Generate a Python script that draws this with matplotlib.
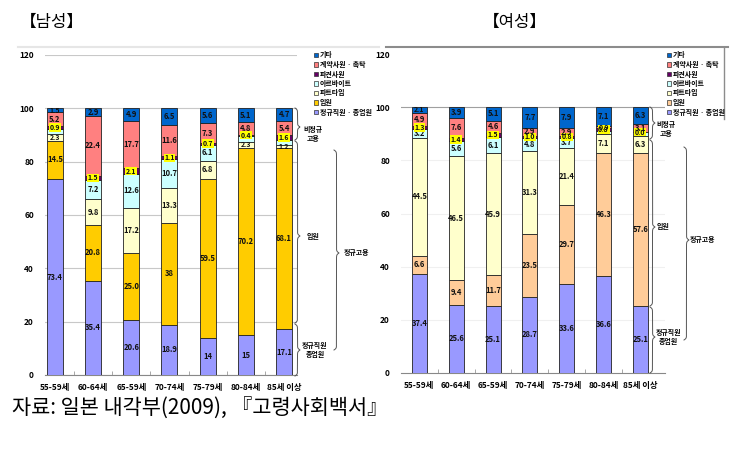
import numpy as np
import matplotlib
matplotlib.use('Agg')
import matplotlib.pyplot as plt
from matplotlib.lines import Line2D
from matplotlib.patches import Rectangle

plt.rcParams['font.family'] = ['Noto Sans CJK KR', 'DejaVu Sans']

# ---------------------------------------------------------------- data
ages_m = ['55-59세', '60-64세', '65-59세', '70-74세', '75-79세', '80-84세', '85세 이상']
ages_f = ['55-59세', '60-64세', '65-59세', '70-74세', '75-79세', '80-84세', '85세 이상']
series = ['정규직원 · 종업원', '임원', '파트타임', '아르바이트', '파견사원', '계약사원 · 촉탁', '기타']

# 남성 (bottom -> top)
m_regular  = [73.4, 35.4, 20.6, 18.9, 14.0, 15.0, 17.1]
m_officer  = [14.5, 20.8, 25.0, 38.0, 59.5, 70.2, 68.1]
m_part     = [2.3, 9.8, 17.2, 13.3, 6.8, 2.3, 1.2]
m_arbeit   = [2.2, 7.2, 12.6, 10.7, 6.1, 2.2, 1.9]
m_dispatch = [0.9, 1.5, 2.1, 1.1, 0.7, 0.4, 1.6]
m_contract = [5.2, 22.4, 17.7, 11.6, 7.3, 4.8, 5.4]
m_other    = [1.5, 2.9, 4.9, 6.5, 5.6, 5.1, 4.7]

# 여성 (bottom -> top)
f_regular  = [37.4, 25.6, 25.1, 28.7, 33.6, 36.6, 25.1]
f_officer  = [6.6, 9.4, 11.7, 23.5, 29.7, 46.3, 57.6]
f_part     = [44.5, 46.5, 45.9, 31.3, 21.4, 7.1, 6.3]
f_arbeit   = [3.2, 5.6, 6.1, 4.8, 3.7, 1.2, 1.6]
f_dispatch = [1.3, 1.4, 1.5, 1.0, 0.8, 0.8, 0.0]
f_contract = [4.9, 7.6, 4.6, 2.9, 2.9, 0.9, 3.1]
f_other    = [2.1, 3.9, 5.1, 7.7, 7.9, 7.1, 6.3]

# segments printed without a label, and labels printed differently
m_hidden = {(3, 0), (3, 5), (3, 6)}
f_hidden = {(3, 5), (3, 6)}
m_text = {(0, 4): '14', (0, 5): '15', (1, 3): '38', (1, 2): '25.0'}
f_text = {(4, 6): '0.0'}

# ---------------------------------------------------------------- style
colors_m = ['#9999FF', '#FFCC00', '#FFFFCC', '#CCFFFF', '#660066', '#FF8080', '#0066CC']
colors_f = ['#9999FF', '#FFCC99', '#FFFFCC', '#CCFFFF', '#660066', '#FF8080', '#0066CC']

W, H = 753, 451
fig = plt.figure(figsize=(W / 100, H / 100), dpi=100)


def fx(px):
    return px / W


def fy(py):
    return 1 - py / H


def brace(x, y1, y2, w, tip=None):
    # curly brace pointing right, pixel coords (y from top)
    if tip is None:
        tip = (y1 + y2) / 2
    beta = 1.2
    out_x, out_y = [], []
    for a, b in [(y1, tip), (y2, tip)]:
        seg = np.linspace(0, abs(b - a), 120)
        v = 1 / (1 + np.exp(-beta * (seg - seg[0]))) + 1 / (1 + np.exp(-beta * (seg - seg[-1])))
        xs = x + (v - 0.5) * w
        ys = a + np.sign(b - a) * seg
        if a == y2:
            xs, ys = xs[::-1], ys[::-1]
        out_x.append(xs)
        out_y.append(ys)
    xs = np.concatenate([out_x[0], out_x[1]])
    ys = np.concatenate([out_y[0], out_y[1]])
    fig.add_artist(Line2D(fx(xs), fy(ys), transform=fig.transFigure, color='#555555', lw=0.7))


def draw_panel(rect, xlim, width, data, colors, hidden, text_over, grid_all):
    ax = fig.add_axes(rect)
    x = np.arange(len(data[0]))
    bottom = np.zeros(len(x))
    for k, vals in enumerate(data):
        vals = np.array(vals)
        ax.bar(x, vals, width, bottom=bottom, color=colors[k], edgecolor='#222222', lw=0.6, zorder=3)
        for i, v in enumerate(vals):
            if (k, i) in hidden:
                continue
            lab = text_over.get((k, i), f'{v:.1f}')
            fs = 5.5 if v >= 2.5 else 5
            kw = dict(ha='center', va='center', fontsize=fs, fontweight='bold', color='#111111', zorder=5)
            if k == 4:
                kw['bbox'] = dict(boxstyle='square,pad=0.1', fc='#FFFF00', ec='none')
            ax.text(x[i], bottom[i] + v / 2, lab, **kw)
        bottom += vals
    ax.set_xlim(*xlim)
    ax.set_ylim(0, 120)
    ax.set_yticks(range(0, 121, 20))
    ax.tick_params(axis='y', length=0, labelsize=6, pad=8)
    ax.tick_params(axis='x', length=0, labelsize=6, pad=6)
    ax.set_xticks(x)
    ax.set_xticks(x[:-1] + 0.5, minor=True)
    ax.tick_params(axis='x', which='minor', direction='in', length=3, color='#999999')
    for s in ['top', 'right', 'left']:
        ax.spines[s].set_visible(False)
    ax.spines['bottom'].set_color('#888888')
    if grid_all:
        ax.yaxis.grid(True, color='#C8C8C8', lw=0.8, zorder=0)
    else:
        ax.axhline(100, color='#A0A0A0', lw=0.8, zorder=0)
        for g in (20, 40, 60, 80):
            ax.axhline(g, color='#F0F0F0', lw=0.8, zorder=0)
    return ax


ax1 = draw_panel([fx(45), 76 / H, 252 / W, 320 / H], (-0.26, 6.34), 0.42,
                 [m_regular, m_officer, m_part, m_arbeit, m_dispatch, m_contract, m_other],
                 colors_m, m_hidden, m_text, True)
ax1.set_xticklabels(ages_m, fontweight='bold')
for t in ax1.get_yticklabels():
    t.set_fontweight('bold')

ax2 = draw_panel([fx(401), 78 / H, 264 / W, 319 / H], (-0.5, 6.67), 0.41,
                 [f_regular, f_officer, f_part, f_arbeit, f_dispatch, f_contract, f_other],
                 colors_f, f_hidden, f_text, False)
ax2.set_xticklabels(ages_f, fontweight='bold')
for t in ax2.get_yticklabels():
    t.set_fontweight('bold')

# panel frames
fig.add_artist(Line2D([fx(18), fx(379)], [fy(47), fy(47)], transform=fig.transFigure, color='#E6E6E6', lw=1.5))
fig.add_artist(Line2D([fx(386), fx(728)], [fy(47), fy(47)], transform=fig.transFigure, color='#8C8C8C', lw=1.5))
fig.add_artist(Line2D([fx(724), fx(724)], [fy(47), fy(119)], transform=fig.transFigure, color='#8C8C8C', lw=1.0))

# titles and source
fig.text(fx(20), fy(22), '【남성】', fontsize=12, va='center', ha='left')
fig.text(fx(483), fy(22), '【여성】', fontsize=12, va='center', ha='left')
fig.text(fx(12), fy(408), '자료: 일본 내각부(2009), 『고령사회백서』', fontsize=15, va='center', ha='left')

# legends
legend_order = [6, 5, 4, 3, 2, 1, 0]
for lx, cols in [(316, colors_m), (669, colors_f)]:
    for j, k in enumerate(legend_order):
        yy = 55 + j * 9.5
        fig.add_artist(Rectangle((fx(lx - 2), fy(yy + 2)), 4 / W, 4 / H, transform=fig.transFigure,
                                 fc=cols[k], ec='#333333', lw=0.5))
        fig.text(fx(lx + 4), fy(yy), series[::-1][j], fontsize=5, fontweight='bold', va='center', ha='left')

# braces and labels - 남성
brace(295, 108, 140, 5, tip=127)
brace(295, 141, 323, 5, tip=236)
brace(295, 324, 376, 5, tip=350)
brace(334, 150, 350, 5, tip=253)
fig.text(fx(313), fy(134), '비정규\n고용', fontsize=5, fontweight='bold', ha='center', va='center', linespacing=1.3)
fig.text(fx(313), fy(236), '임원', fontsize=5, fontweight='bold', ha='center', va='center')
fig.text(fx(315), fy(350), '정규직원\n종업원', fontsize=5, fontweight='bold', ha='center', va='center', linespacing=1.3)
fig.text(fx(357), fy(253), '정규고용', fontsize=5, fontweight='bold', ha='center', va='center')

# braces and labels - 여성
brace(650, 107, 139, 5, tip=123)
brace(650, 140, 306, 5, tip=227)
brace(650, 307, 373, 5, tip=337)
brace(684, 147, 340, 5, tip=240)
fig.text(fx(666), fy(129), '비정규\n고용', fontsize=5, fontweight='bold', ha='center', va='center', linespacing=1.3)
fig.text(fx(663), fy(227), '임원', fontsize=5, fontweight='bold', ha='center', va='center')
fig.text(fx(668), fy(337), '정규직원\n종업원', fontsize=5, fontweight='bold', ha='center', va='center', linespacing=1.3)
fig.text(fx(703), fy(240), '정규고용', fontsize=5, fontweight='bold', ha='center', va='center')

fig.savefig('out.png', dpi=100)
